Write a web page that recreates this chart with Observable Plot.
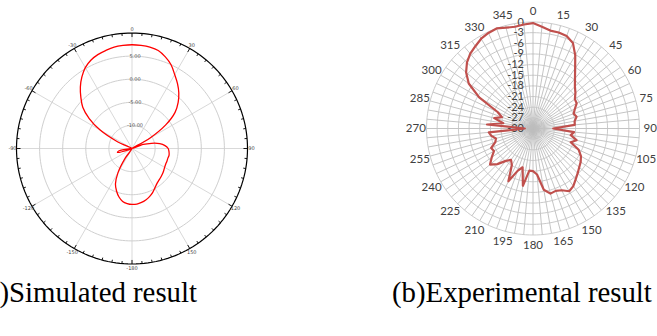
<!DOCTYPE html>
<html><head><meta charset="utf-8">
<script src="https://cdn.jsdelivr.net/npm/d3@7"></script>
<script src="https://cdn.jsdelivr.net/npm/@observablehq/plot@0.6"></script>
<style>
html,body{margin:0;padding:0;background:#fff;overflow:hidden;}
#wrap{position:relative;width:657px;height:336px;overflow:hidden;}
#left{position:absolute;left:0;top:0;}
#right{position:absolute;left:400px;top:0;}
.cap{position:absolute;font-family:"Liberation Serif","Times New Roman",serif;font-size:28.8px;white-space:nowrap;color:#000;line-height:1;}
#capA{right:460px;top:278px;}
#capB{left:392px;top:278px;}
</style></head><body>
<div id="wrap"><div id="left"></div><div id="right"></div>
<div class="cap" id="capA">(a)Simulated result</div>
<div class="cap" id="capB">(b)Experimental result</div></div>
<script>
// ---------- data ----------
const angles = [0,5,10,15,20,25,30,35,40,45,50,55,60,65,70,75,80,85,90,95,100,105,110,115,120,125,130,135,140,145,150,155,160,165,170,175,180,185,190,195,200,205,210,215,220,225,230,235,240,245,250,255,260,265,270,275,280,285,290,295,300,305,310,315,320,325,330,335,340,345,350,355];
// (a) simulated gain, dB
const simGain = [7.46,7.39,7.28,6.96,6.09,5.0,3.48,2.17,0.76,-0.87,-2.83,-6.09,-10.65,-15,-12.4,-10.65,-8.9,-7.83,-7.17,-6.96,-6.85,-6.96,-6.96,-6.96,-6.85,-6.63,-6.41,-6.2,-5.98,-5.65,-5.11,-4.46,-3.91,-3.48,-3.15,-2.93,-2.89,-3.04,-3.37,-4.13,-5.22,-6.52,-8.91,-12.39,-15,-15,-15,-15,-15,-15,-14.35,-11.74,-12.17,-14.57,-15,-15,-15,-15,-15,-11.52,-7.04,-3.7,-1.09,0.65,2.39,3.91,5.22,6.09,6.63,6.96,7.28,7.39];
// (b) experimental gain, dB
const expGain = [-0.3,-1.2,-2.0,-2.0,-2.3,-3.4,-6.2,-9.3,-11.6,-13.3,-14.4,-15.6,-15.8,-17.0,-17.8,-17.3,-18.1,-18.2,-24.3,-18.4,-19.2,-17.3,-18.7,-15.8,-14.4,-13.6,-13.0,-12.2,-11.3,-10.2,-9.6,-10.8,-11.3,-11.0,-12.5,-17.0,-18.0,-18.1,-13.6,-18.7,-17.3,-13.6,-18.1,-19.2,-18.1,-15.8,-14.2,-15.8,-17.3,-17.0,-18.7,-19.2,-18.1,-17.5,-27.7,-17.0,-21.5,-18.7,-20.7,-19.0,-12.5,-7.9,-5.4,-3.7,-2.5,-1.7,-0.8,-0.3,0,-0.6,-0.9,-0.6];
const simRingValues = [-10,-5,0,5];
const simRingLabels = ["-10.00","-5.00","0.00","5.00"];
const simAngleTicks = [0,30,60,90,120,150,180,210,240,270,300,330];
const simAngleLabels = ["0","30","60","90","120","150","-180","-150","-120","-90","-60","-30"];
const expRingValues = [-27,-24,-21,-18,-15,-12,-9,-6,-3,0];
const expRingLabels = ["-30","-27","-24","-21","-18","-15","-12","-9","-6","-3","0"];
const expAngleLabels = ["0","15","30","45","60","75","90","105","120","135","150","165","180","195","210","225","240","255","270","285","300","315","330","345"];

// ---------- helpers ----------
const rad = d => d * Math.PI / 180;
const P = (deg, r) => ({x: r * Math.sin(rad(deg)), y: r * Math.cos(rad(deg))});
const circle = (r, key) => d3.range(0, 361, 2).map(a => ({...P(a, r), k: key}));

// ---------- (a) simulated ----------
const sMin = -15, sMax = 10;
const sr = v => (Math.max(v, sMin) - sMin) / (sMax - sMin);
const simPts = [];
angles.forEach((a, i) => {
  const p = P(a, sr(simGain[i]));
  const last = simPts[simPts.length - 1];
  if (sr(simGain[i]) === 0 && last && Math.hypot(last.x, last.y) < 1e-9) return;
  simPts.push(p);
});
const simRings = simRingValues.flatMap(v => circle(sr(v), v));
const simSpokes = simAngleTicks.map(a => ({a, ...P(a, 1)}));
const smallTicks = d3.range(0, 360, 5).map(a => {
  const o = P(a, 1), i = P(a, a % 30 === 0 ? 0.965 : 0.978);
  return {x1: o.x, y1: o.y, x2: i.x, y2: i.y};
});

const left = Plot.plot({
  width: 263, height: 296,
  marginLeft: 16, marginRight: 16, marginTop: 32.5, marginBottom: 32.5,
  x: {domain: [-1, 1], axis: null},
  y: {domain: [-1, 1], axis: null},
  style: {background: "transparent", overflow: "visible"},
  marks: [
    Plot.link(simSpokes, {x1: 0, y1: 0, x2: "x", y2: "y", stroke: "#d9d9d9", strokeWidth: 1}),
    Plot.line(simRings, {x: "x", y: "y", z: "k", stroke: "#cfcfcf", strokeWidth: 1}),
    Plot.line(circle(1, "outer"), {x: "x", y: "y", stroke: "#000", strokeWidth: 1.2}),
    Plot.link(smallTicks, {x1: "x1", y1: "y1", x2: "x2", y2: "y2", stroke: "#000", strokeWidth: 0.9}),
    Plot.text(simRingValues, {x: 0, y: v => sr(v), text: (v, i) => simRingLabels[i], dx: 3, fontSize: 5, fill: "#555", fontFamily: "DejaVu Sans"}),
    Plot.text(simAngleTicks, {x: a => P(a, 1.035).x, y: a => P(a, 1.035).y, text: (a, i) => simAngleLabels[i], fontSize: 5, fill: "#444", fontFamily: "DejaVu Sans"}),
    Plot.line(simPts, {x: "x", y: "y", stroke: "#ff0000", strokeWidth: 1.3, curve: "catmull-rom-closed"})
  ]
});
document.getElementById("left").append(left);

// ---------- (b) experimental ----------
const eMin = -30, eMax = 0;
const er = v => (Math.max(v, eMin) - eMin) / (eMax - eMin);
const expPts = angles.map((a, i) => P(a, er(expGain[i])));
const expRings = expRingValues.flatMap(v => circle(er(v), v));
const expSpokes = angles.map(a => P(a, 1));
const labAngles = angles.filter(a => a % 15 === 0);

const right = Plot.plot({
  width: 257, height: 256,
  marginLeft: 26, marginRight: 18, marginTop: 21.5, marginBottom: 21.5,
  x: {domain: [-1, 1], axis: null},
  y: {domain: [-1, 1], axis: null},
  style: {background: "transparent", overflow: "visible"},
  marks: [
    Plot.link(expSpokes, {x1: 0, y1: 0, x2: "x", y2: "y", stroke: "#bdbdbd", strokeWidth: 0.9}),
    Plot.line(expRings, {x: "x", y: "y", z: "k", stroke: "#c4c4c4", strokeWidth: 0.9}),
    Plot.text(labAngles, {x: a => P(a, 1.1).x, y: a => P(a, 1.1).y, text: (a, i) => expAngleLabels[i], fontSize: 11.5, fill: "#404040", fontFamily: "Lato"}),
    Plot.text([-30, ...expRingValues], {x: 0, y: v => er(v), text: (v, i) => expRingLabels[i], textAnchor: "end", dx: -9, fontSize: 11, fill: "#404040", fontFamily: "Lato"}),
    Plot.line(expPts, {x: "x", y: "y", stroke: "#c0504d", strokeWidth: 2.2, strokeLinejoin: "round", curve: "linear-closed"})
  ]
});
document.getElementById("right").append(right);
</script>
</body></html>
